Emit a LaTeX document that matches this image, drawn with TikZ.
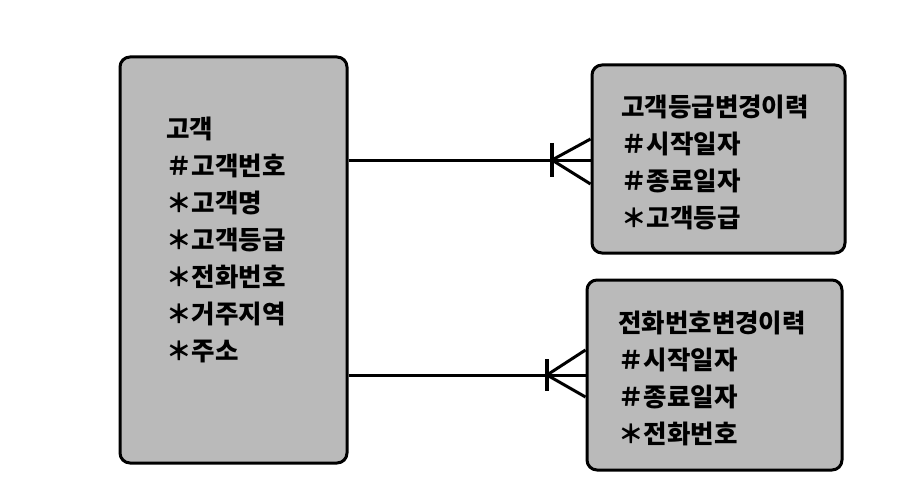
\documentclass[tikz,border=0pt]{standalone}
\usepackage{fontspec}
\setmainfont{Noto Sans CJK KR}
\tikzset{ent/.style={draw,line width=3pt,rounded corners=10pt,fill=black!27,inner sep=0pt},
  attr/.style={anchor=north west,align=left,inner sep=0pt,font=\fontsize{25.5}{37}\selectfont\bfseries},
  rel/.style={line width=3pt}}

\begin{document}
\begin{tikzpicture}[x=1pt,y=-1pt]
\useasboundingbox (0,0) rectangle (918,500);
% entities
\node[ent,minimum width=227pt,minimum height=406pt] (cust) at (233.5,260) {};
\node[ent,minimum width=253pt,minimum height=188pt] (grade) at (718.5,159) {};
\node[ent,minimum width=255pt,minimum height=190pt] (tel) at (714.5,375) {};
\node[attr] (custT) at (166,117) {고객\\＃고객번호\\＊고객명\\＊고객등급\\＊전화번호\\＊거주지역\\＊주소};
\node[attr] (gradeT) at (621,95) {고객등급변경이력\\＃시작일자\\＃종료일자\\＊고객등급};
\node[attr] (telT) at (618,311) {전화번호변경이력\\＃시작일자\\＃종료일자\\＊전화번호};
% relations
\coordinate (g) at (552,160);
\coordinate (t) at (547,375);
\path (grade.west |- g) coordinate (ge) (tel.west |- t) coordinate (te);
\draw[rel] (cust.east |- g) -- (ge) (cust.east |- t) -- (te);
\draw[rel,line width=3.6pt] (g)+(0,-17) -- +(0,17) (t)+(0,-16) -- +(0,16);
\draw[rel] (ge)++(0,-21) -- (g) (ge)++(0,24) -- (g);
\draw[rel] (te)++(0,-25) -- (t) (te)++(0,22) -- (t);
\end{tikzpicture}
\end{document}
